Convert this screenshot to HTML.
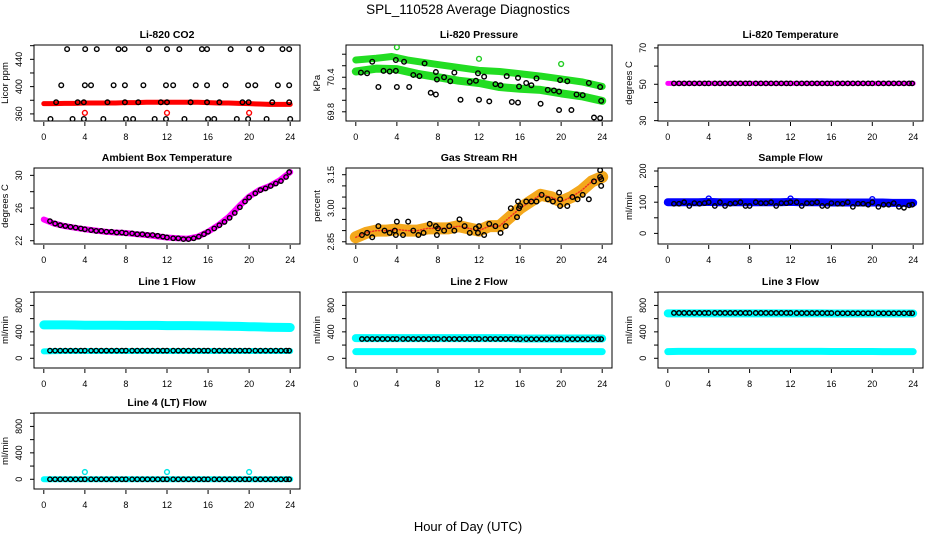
<!DOCTYPE html>
<html><head><meta charset="utf-8"><title>SPL_110528 Average Diagnostics</title>
<style>
html,body{margin:0;padding:0;background:#fff;}
svg{display:block;font-family:"Liberation Sans",sans-serif;}
</style></head>
<body>
<svg id="chart" width="936" height="540" viewBox="0 0 936 540" xmlns="http://www.w3.org/2000/svg">
<rect x="0" y="0" width="936" height="540" fill="#fff"/>
<text x="468" y="14" text-anchor="middle" font-size="13.5">SPL_110528  Average Diagnostics</text>
<text x="468" y="531" text-anchor="middle" font-size="13">Hour of Day (UTC)</text>
</svg>
<script>
// ---- shared hour grids ----
const hrsHour = [0,1,2,3,4,5,6,7,8,9,10,11,12,13,14,15,16,17,18,19,20,21,22,23,24];
const hrsB = [0.6,1.1,1.6,2.1,2.6,3.1,3.6,4.0,4.6,5.1,5.6,6.1,6.6,7.1,7.6,8.0,8.6,9.1,9.6,10.1,10.6,11.1,11.6,12.0,12.6,13.1,13.6,14.1,14.6,15.1,15.6,16.0,16.6,17.1,17.6,18.1,18.6,19.1,19.6,20.0,20.6,21.1,21.6,22.1,22.6,23.1,23.6,23.9];
const xTicks = [0,4,8,12,16,20,24];
const outlierHrs = [4,12,20];

// ---- CO2 ----
const co2Band = [375,375,375.5,375.5,376,376,376,376,376.5,376.5,377,377,377,377,377,377,376.5,376,376,375.5,375,374.5,374,374,374];
const co2Outliers = [361.5,361.5,361.5];
const co2HiHrs = [2.27,4.03,5.16,7.28,7.87,10.24,12.0,13.2,15.4,15.9,18.2,20.0,21.2,23.25,23.9];
const co2HiVal = [455,455,455,455,455,455,455,455,455,455,455,455,455,455,455];
const co2MidHrs = [1.7,4.0,4.6,6.8,7.9,9.7,11.9,12.6,14.8,15.9,17.7,19.9,20.6,22.8,23.9];
const co2MidVal = [402,402,402,402,402,402,402,402,402,402,402,402,402,402,402];
const co2LowHrs = [1.2,3.3,3.9,6.2,7.9,9.2,11.4,12.0,14.3,15.9,17.1,19.35,19.95,22.25,23.9];
const co2LowVal = [377,377,377,377,377,377,377,377,377,377,377,377,377,377,377];
const co2BotHrs = [0.65,2.8,3.9,5.8,8.0,8.7,10.8,11.9,13.7,16.0,16.6,18.8,19.9,21.7,24.0];
const co2BotVal = [352.5,352.5,352.5,352.5,352.5,352.5,352.5,352.5,352.5,352.5,352.5,352.5,352.5,352.5,352.5];

// ---- Pressure ----
const presUpperHrs = [0,2,3.5,5,8,10,12,14,16,18,20,22,24];
const presUpper = [70.70,70.73,70.76,70.70,70.62,70.57,70.52,70.50,70.46,70.42,70.37,70.32,70.24];
const presLowerHrs = [0,2,4,6,8,10,12,14,16,18,20,22,24];
const presLower = [70.50,70.55,70.54,70.46,70.40,70.34,70.30,70.23,70.20,70.18,70.12,70.07,69.99];
const presOutliers = [70.92,70.72,70.63];
const presBlackHrs = [1.6,3.9,4.7,6.7,0.5,1.1,2.7,3.3,3.9,5.6,6.2,7.8,7.9,8.6,9.2,9.6,11.1,11.7,11.9,12.5,13.6,14.1,14.7,15.8,15.9,16.6,17.1,17.6,18.7,19.3,19.8,19.9,20.6,21.5,22.1,22.7,23.8,23.9,2.2,4.0,5.2,7.3,7.8,10.2,12.0,13.0,15.2,15.8,18.0,19.8,21.0,23.2,23.8];
const presBlackVal = [70.67,70.70,70.67,70.64,70.48,70.47,70.51,70.50,70.51,70.44,70.42,70.49,70.36,70.40,70.33,70.48,70.32,70.34,70.47,70.41,70.28,70.26,70.42,70.39,70.24,70.30,70.26,70.38,70.18,70.17,70.15,70.35,70.33,70.10,70.09,70.30,70.23,69.99,70.23,70.23,70.23,70.13,70.10,70.01,70.01,69.98,69.97,69.96,69.94,69.83,69.83,69.70,69.69];

// ---- Li-820 temperature ----
const tempBand = [50.5,50.5,50.5,50.5,50.5,50.5,50.5,50.5,50.5,50.5,50.5,50.5,50.5,50.5,50.5,50.5,50.5,50.5,50.5,50.5,50.5,50.5,50.5,50.5,50.5];
const tempBlack = [50.5,50.5,50.5,50.5,50.5,50.5,50.5,50.5,50.5,50.5,50.5,50.5,50.5,50.5,50.5,50.5,50.5,50.5,50.5,50.5,50.5,50.5,50.5,50.5,50.5,50.5,50.5,50.5,50.5,50.5,50.5,50.5,50.5,50.5,50.5,50.5,50.5,50.5,50.5,50.5,50.5,50.5,50.5,50.5,50.5,50.5,50.5,50.5];

// ---- Ambient box temperature ----
const ambBand = [24.6,24.1,23.8,23.6,23.4,23.25,23.1,23.0,22.95,22.8,22.7,22.55,22.4,22.3,22.25,22.5,23.1,23.9,24.9,26.2,27.4,28.2,28.7,29.4,30.4];
const ambBlack = [24.4,24.1,23.9,23.8,23.7,23.6,23.5,23.4,23.3,23.2,23.2,23.1,23.1,23.0,23.0,22.9,22.9,22.8,22.8,22.7,22.7,22.6,22.5,22.4,22.3,22.3,22.2,22.2,22.3,22.5,22.8,23.1,23.5,23.9,24.3,24.8,25.4,26.1,26.8,27.3,27.8,28.2,28.4,28.7,29.0,29.3,29.8,30.4];

// ---- Gas stream RH ----
const rhBand = [2.87,2.89,2.90,2.90,2.905,2.90,2.90,2.91,2.91,2.91,2.92,2.91,2.90,2.92,2.92,2.96,3.00,3.03,3.06,3.05,3.03,3.05,3.08,3.12,3.14];
const rhBlackHrs = [0.6,1.1,1.6,2.2,2.8,3.3,3.8,3.9,4.0,4.6,5.1,5.6,6.1,6.6,7.2,7.8,7.9,8.0,8.6,9.1,9.6,10.1,10.6,11.1,11.7,11.9,12.0,12.5,13.0,13.6,14.1,14.6,15.1,15.7,15.8,15.9,16.0,16.6,17.1,17.6,18.1,18.7,19.2,19.8,19.9,19.9,20.6,21.1,21.6,22.1,22.7,23.2,23.8,23.8,23.9,23.9];
const rhBlackVal = [2.88,2.89,2.87,2.92,2.90,2.89,2.90,2.88,2.94,2.88,2.94,2.90,2.88,2.89,2.93,2.92,2.88,2.91,2.90,2.92,2.90,2.95,2.92,2.89,2.91,2.89,2.92,2.88,2.93,2.92,2.89,2.92,3.00,2.96,3.03,3.00,3.01,3.03,3.03,3.03,3.06,3.04,3.03,3.07,3.04,3.01,3.01,3.05,3.04,3.06,3.04,3.12,3.14,3.17,3.10,3.13];

// ---- Sample flow ----
const sfBand = [100,100,100,100,101,100,100,100,100,100,100,100,101,100,100,100,99,99,99,99,99,99,98,98,98];
const sfOutliers = [112,112,110];
const sfBlack = [95,95,100,88,97,95,97,100,88,100,88,95,97,100,88,88,100,97,97,100,88,97,97,100,100,88,97,97,100,88,88,97,95,95,100,85,95,95,92,100,85,92,92,97,85,82,90,92];

// ---- Line flows ----
const l1High = [505,505,505,503,500,500,500,500,498,498,498,498,495,495,495,493,490,488,485,482,478,475,470,468,465];
const l1Low = [105,108,110,110,110,110,110,110,110,110,110,110,110,110,110,110,110,110,110,110,110,110,110,110,110];
const l1Black = [115,115,115,115,115,115,115,115,115,115,115,115,115,115,115,115,115,115,115,115,115,115,115,115,115,115,115,115,115,115,115,115,115,115,115,115,115,115,115,115,115,115,115,115,115,115,115,115];
const l2High = [305,305,305,305,305,305,305,305,305,305,305,305,305,305,305,305,300,300,300,300,300,300,300,300,300];
const l2Low = [100,100,100,100,100,100,100,100,100,100,100,100,100,100,100,100,100,100,100,100,100,100,100,100,100];
const l2Black = [292,292,292,292,292,292,292,292,292,292,292,292,292,292,292,292,292,292,292,292,292,292,292,292,292,292,292,292,292,292,292,290,290,290,290,290,290,290,290,290,290,290,290,290,290,290,290,290];
const l3High = [680,680,680,680,680,680,680,680,680,680,680,680,680,680,680,680,678,678,678,678,678,678,678,678,678];
const l3Low = [100,105,105,105,105,105,105,105,105,105,105,105,105,105,105,105,102,102,102,102,102,100,100,100,100];
const l3Black = [686,686,686,686,686,686,686,686,686,686,686,686,686,686,686,686,686,686,686,686,686,686,686,686,684,684,684,684,684,684,684,684,682,682,682,682,682,682,682,682,682,682,682,682,682,682,682,682];
const l4Band = [0,0,0,0,0,0,0,0,0,0,0,0,0,0,0,0,0,0,0,0,0,0,0,0,0];
const l4Outliers = [110,110,110];
const l4Black = [0,0,0,0,0,0,0,0,0,0,0,0,0,0,0,0,0,0,0,0,0,0,0,0,0,0,0,0,0,0,0,0,0,0,0,0,0,0,0,0,0,0,0,0,0,0,0,0];

// ---- tick arrays ----
const co2Ticks = [360,380,400,420,440,460];
const co2Labels = [360,400,440];
const presTicks = [69.8,70.0,70.2,70.4,70.6,70.8];
const presLabels = [69.8,70.4];
const tempTicks = [30,40,50,60,70];
const tempLabels = [30,50,70];
const ambTicks = [22,24,26,28,30];
const ambLabels = [22,26,30];
const rhTicks = [2.85,2.90,2.95,3.00,3.05,3.10,3.15];
const rhLabels = ["2.85","3.00","3.15"];
const sfTicks = [0,50,100,150,200];
const sfLabels = [0,100,200];
const flowTicks = [0,200,400,600,800,1000];
const flowLabels = [0,400,800];

const NS = "http://www.w3.org/2000/svg";
const svg = document.getElementById('chart');
function mk(tag, attrs, parent){
  const e = document.createElementNS(NS, tag);
  for (const k in attrs) e.setAttribute(k, attrs[k]);
  (parent||svg).appendChild(e);
  return e;
}
const colLeft = [34,346,658], colW = [266,266,265];
const rowTop = [45,168,292,413], H = 76;

function panel(name, col, row, title, ylab, ymin, ymax, ticks, labels){
  const L = colLeft[col], T = rowTop[row], W = colW[col], B = T + H;
  const g = mk('g', {});
  
  
  const xs = h => L + 9.8 + h * (W - 19.6) / 24;
  const ys = v => B - (v - ymin) / (ymax - ymin) * H;
  const box = mk('rect', {x:L, y:T, width:W, height:H, fill:'none', stroke:'#000', 'stroke-width':1}, g);
  
  
  const t = mk('text', {x:L + W/2, y:T - 7, 'text-anchor':'middle', 'font-size':10.5, 'font-weight':'bold'}, g);
  t.textContent = title;
  
  
  // x axis
  const xa = mk('g', {}, g);
  
  
  xTicks.forEach(h => {
    mk('line', {x1:xs(h), x2:xs(h), y1:B+1, y2:B+5, stroke:'#000'}, xa);
    const tl = mk('text', {x:xs(h), y:B+19, 'text-anchor':'middle', 'font-size':9}, xa);
    tl.textContent = h;
  });
  // y axis
  const ya = mk('g', {}, g);
  
  
  ticks.forEach(v => mk('line', {x1:L-4, x2:L, y1:ys(v), y2:ys(v), stroke:'#000'}, ya));
  labels.forEach(v => {
    const y = ys(parseFloat(v));
    const tl = mk('text', {x:L-12, y:y, 'text-anchor':'middle', 'font-size':9, transform:'rotate(-90 '+(L-12)+' '+y+')'}, ya);
    tl.textContent = v;
  });
  const yt = mk('text', {x:L-26, y:T+H/2, 'text-anchor':'middle', 'font-size':9.5, transform:'rotate(-90 '+(L-26)+' '+(T+H/2)+')'}, ya);
  yt.textContent = ylab;
  
  
  const clip = 'clip-' + name;
  const cp = mk('clipPath', {id:clip}, g);
  mk('rect', {x:L, y:T, width:W, height:H}, cp);
  const plot = mk('g', {'clip-path':'url(#'+clip+')'}, g);
  return {
    band(hrs, vals, color, width, sname){
      const p = mk('polyline', {points: hrs.map((h,i)=>xs(h)+','+ys(vals[i])).join(' '), fill:'none', stroke:color, 'stroke-width':width, 'stroke-linecap':'round', 'stroke-linejoin':'round'}, plot);
      
      
      return p;
    },
    dots(hrs, vals, color, r, sname){
      const gg = mk('g', {}, plot);
      
      
      hrs.forEach((h,i) => {
        const c = mk('circle', {cx:xs(h), cy:ys(vals[i]), r:r, fill:'none', stroke:color, 'stroke-width':1.4}, gg);
        
        
      });
    }
  };
}

// Row 1
let p = panel('co2', 0, 0, 'Li-820 CO2', 'Licor ppm', 349.6, 461, co2Ticks, co2Labels);
p.band(hrsHour, co2Band, '#ff0000', 5, 'co2-band');
p.dots(outlierHrs, co2Outliers, '#ff0000', 2.4, 'co2-red-outliers');
p.dots(co2HiHrs, co2HiVal, '#000', 2.3, 'co2-black-high');
p.dots(co2MidHrs, co2MidVal, '#000', 2.3, 'co2-black-mid');
p.dots(co2LowHrs, co2LowVal, '#000', 2.3, 'co2-black-low');
p.dots(co2BotHrs, co2BotVal, '#000', 2.3, 'co2-black-bottom');

p = panel('pressure', 1, 0, 'Li-820 Pressure', 'kPa', 69.64, 70.96, presTicks, presLabels);
p.band(presUpperHrs, presUpper, '#22dd22', 7, 'pressure-upper-band');
p.band(presLowerHrs, presLower, '#22dd22', 8, 'pressure-lower-band');
p.dots(outlierHrs, presOutliers, '#22cc22', 2.4, 'pressure-green-outliers');
p.dots(presBlackHrs, presBlackVal, '#000', 2.3, 'pressure-black-points');

p = panel('li820-temp', 2, 0, 'Li-820 Temperature', 'degrees C', 29.8, 71.6, tempTicks, tempLabels);
p.band(hrsHour, tempBand, '#ff00ff', 5, 'temp-band');
p.dots(hrsB, tempBlack, '#000', 2.2, 'temp-black-points');

// Row 2
p = panel('ambient', 0, 1, 'Ambient Box Temperature', 'degrees C', 21.6, 30.9, ambTicks, ambLabels);
p.band(hrsHour, ambBand, '#ff00ff', 6, 'ambient-band');
p.dots(hrsB, ambBlack, '#000', 2.2, 'ambient-black-points');

p = panel('rh', 1, 1, 'Gas Stream RH', 'percent', 2.84, 3.18, rhTicks, rhLabels);
p.band(hrsHour, rhBand, '#f4a81c', 12, 'rh-band');
p.band(hrsHour, rhBand, '#ee3322', 1.5, 'rh-band-speckle').setAttribute('stroke-dasharray', '1 2');
p.dots(rhBlackHrs, rhBlackVal, '#000', 2.3, 'rh-black-points');

p = panel('sample-flow', 2, 1, 'Sample Flow', 'ml/min', -34, 209.6, sfTicks, sfLabels);
p.band(hrsHour, sfBand, '#0000ff', 8, 'sample-flow-band');
p.dots(outlierHrs, sfOutliers, '#0000ff', 2.4, 'sample-flow-outliers');
p.dots(hrsB, sfBlack, '#000', 2.2, 'sample-flow-black-points');

// Row 3
p = panel('line1', 0, 2, 'Line 1 Flow', 'ml/min', -147, 1003, flowTicks, flowLabels);
p.band(hrsHour, l1High, '#00ffff', 9, 'line1-high-band');
p.band(hrsHour, l1Low, '#00ffff', 6, 'line1-low-band');
p.dots(hrsB, l1Black, '#000', 2.2, 'line1-black-points');

p = panel('line2', 1, 2, 'Line 2 Flow', 'ml/min', -147, 1003, flowTicks, flowLabels);
p.band(hrsHour, l2High, '#00ffff', 8, 'line2-high-band');
p.band(hrsHour, l2Low, '#00ffff', 7, 'line2-low-band');
p.dots(hrsB, l2Black, '#000', 2.2, 'line2-black-points');

p = panel('line3', 2, 2, 'Line 3 Flow', 'ml/min', -147, 1003, flowTicks, flowLabels);
p.band(hrsHour, l3High, '#00ffff', 8, 'line3-high-band');
p.band(hrsHour, l3Low, '#00ffff', 7, 'line3-low-band');
p.dots(hrsB, l3Black, '#000', 2.2, 'line3-black-points');

// Row 4
p = panel('line4', 0, 3, 'Line 4 (LT) Flow', 'ml/min', -147, 1003, flowTicks, flowLabels);
p.band(hrsHour, l4Band, '#00ffff', 6, 'line4-band');
p.dots(outlierHrs, l4Outliers, '#00e5e5', 2.4, 'line4-outliers');
p.dots(hrsB, l4Black, '#000', 2.2, 'line4-black-points');
</script>
</body></html>
